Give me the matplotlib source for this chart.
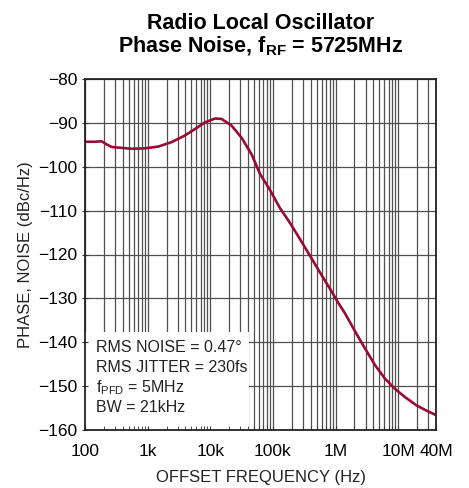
"""
    radio local oscillator phase noise plot
"""
import matplotlib
matplotlib.use("Agg")
import matplotlib.pyplot as plt
from matplotlib.patches import Rectangle
from matplotlib.ticker import FixedLocator, NullFormatter

# offset frequency (Hz) and phase noise (dBc/Hz)
freq = [100, 144, 184, 222, 267, 385, 556, 910, 1480, 2400, 3900, 5700,
        8200, 11900, 15100, 21800, 31600, 45700, 62000, 89600, 129000,
        187000, 270000, 390000, 563000, 813000, 1100000, 1410000, 2040000,
        2940000, 4250000, 6140000, 8850000, 12800000, 19600000, 28400000,
        40000000]
noise = [-94.3, -94.3, -94.2, -94.9, -95.5, -95.7, -95.9, -95.8, -95.4,
         -94.4, -92.9, -91.4, -89.9, -89.0, -89.1, -90.6, -93.4, -97.2,
         -101.6, -105.3, -109.4, -112.8, -116.5, -120.3, -124.1, -127.8,
         -131.0, -133.4, -137.5, -141.4, -145.2, -148.3, -150.6, -152.5,
         -154.4, -155.6, -156.6]

xticks = [100, 1e3, 1e4, 1e5, 1e6, 1e7, 4e7]
xlabels = ["100", "1k", "10k", "100k", "1M", "10M", "40M"]
yticks = list(range(-160, -79, 10))
notes = ["RMS NOISE = 0.47°", "RMS JITTER = 230fs",
         "f$_{\\mathregular{PFD}}$ = 5MHz", "BW = 21kHz"]

plt.rcParams["font.family"] = ["Liberation Sans", "DejaVu Sans"]

fig = plt.figure(figsize=(4.69, 4.88), dpi=100)
ax = fig.add_axes([85/469, 1-430/488, 351/469, 351/488])

ax.set_xscale("log")
ax.set_xlim(100, 4e7)
ax.set_ylim(-160, -80)

# grid: every decade sub-step vertically, every 10dB horizontally
minors = [m * 10**d for d in range(2, 8) for m in range(1, 10) if m * 10**d <= 4e7]
for x in minors:
    ax.axvline(x, color="#505050", lw=0.9, zorder=0.6)
for y in yticks:
    ax.axhline(y, color="#505050", lw=0.9, zorder=0.6)

ax.plot(freq, noise, color="#9a0a32", lw=1.9, zorder=2)

# white box behind the annotations
ax.add_patch(Rectangle((0, 0), (249-85)/351, (430-332)/351, transform=ax.transAxes,
                       facecolor="white", edgecolor="none", zorder=1))
for i, s in enumerate(notes):
    ax.text(0.03, (430-348-20*i)/351, s, transform=ax.transAxes, fontsize=11.5,
            va="center", ha="left", color="#222222", zorder=3)

ax.xaxis.set_major_locator(FixedLocator(xticks))
ax.set_xticklabels(xlabels)
ax.xaxis.set_minor_locator(FixedLocator(minors))
ax.xaxis.set_minor_formatter(NullFormatter())
ax.set_yticks(yticks)
ax.set_yticklabels(["\u2212%d" % -v for v in yticks])
ax.tick_params(axis="x", which="both", direction="in", length=3, labelsize=12.5, pad=10, color="#333333")
ax.tick_params(axis="y", direction="inout", length=5, labelsize=12.5, pad=3, color="#333333")

for sp in ax.spines.values():
    sp.set_linewidth(1.3)
    sp.set_color("#222222")

ax.set_xlabel("OFFSET FREQUENCY (Hz)", fontsize=12, labelpad=8, color="#222222")
ax.set_ylabel("PHASE, NOISE (dBc/Hz)", fontsize=12, labelpad=4, color="#222222")
ax.set_title("Radio Local Oscillator\nPhase Noise, f$_{\\mathregular{RF}}$ = 5725MHz",
             fontsize=15.5, fontweight="bold", pad=19, linespacing=1.05)

fig.savefig("out.png", dpi=100)
